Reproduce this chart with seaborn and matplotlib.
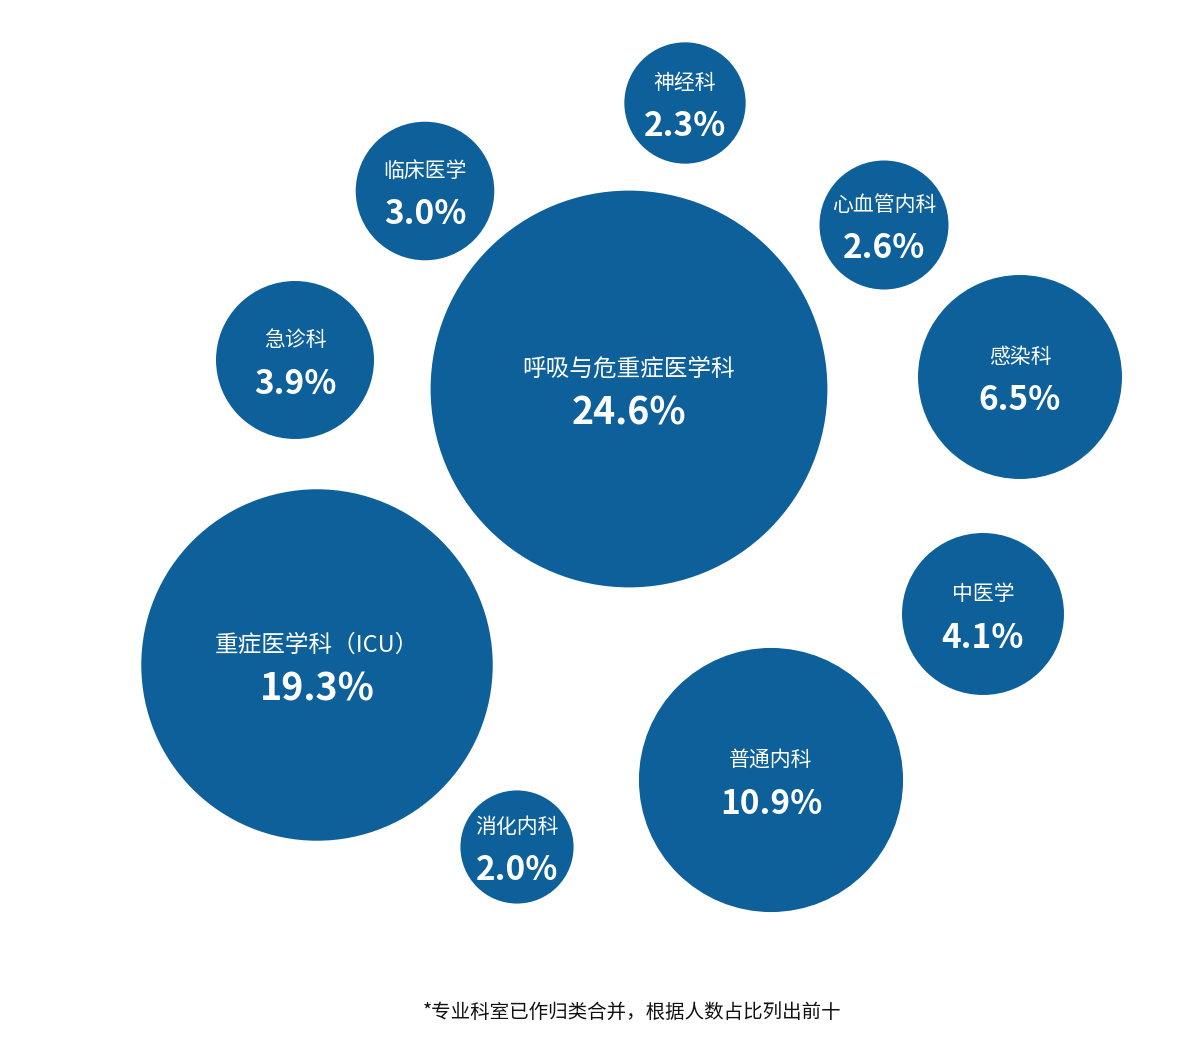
import numpy as np
import pandas as pd
import matplotlib
matplotlib.use("Agg")
import matplotlib.pyplot as plt
import seaborn as sns

# departments and their share (%)
depts = ["呼吸与危重症医学科", "重症医学科（ICU）", "普通内科", "感染科", "中医学",
         "急诊科", "临床医学", "心血管内科", "神经科", "消化内科"]
shares = [24.6, 19.3, 10.9, 6.5, 4.1, 3.9, 3.0, 2.6, 2.3, 2.0]
# bubble layout (pixel space)
pos_x = [629, 317, 771, 1020, 983, 295, 425, 884, 685, 517]
pos_y = [389, 665, 780, 377, 614, 360, 191, 225, 103, 847]

df = pd.DataFrame({"dept": depts, "share": shares, "x": pos_x, "y": pos_y})
df["radius"] = 40 * np.sqrt(df["share"])
df["s"] = (2 * df["radius"] * 72 / 100) ** 2

sns.set_style("white")
plt.rcParams['font.family'] = ['Noto Sans CJK SC', 'DejaVu Sans']

fig = plt.figure(figsize=(12, 10.47), dpi=100)
ax = fig.add_axes([0, 0, 1, 1])
color = "#0d6099"
sns.scatterplot(data=df, x="x", y="y", s=df["s"], color=color, edgecolor="none",
                legend=False, ax=ax)
ax.set_xlim(0, 1200)
ax.set_ylim(1047, 0)
ax.axis("off")

for _, r in df.iterrows():
    big = r["radius"] > 150
    fs_lab = 17 if big else 15
    fs_val = 27 if big else 24
    ax.text(r["x"], r["y"] - 20, r["dept"], color="white", fontsize=fs_lab,
            ha="center", va="center")
    ax.text(r["x"], r["y"] + 24, f"{r['share']:.1f}%", color="white",
            fontsize=fs_val, fontweight="bold", ha="center", va="center")

ax.text(632, 1012, "*专业科室已作归类合并，根据人数占比列出前十", fontsize=14,
        ha="center", va="center", color="#111111")

fig.savefig("out.png", dpi=100)
